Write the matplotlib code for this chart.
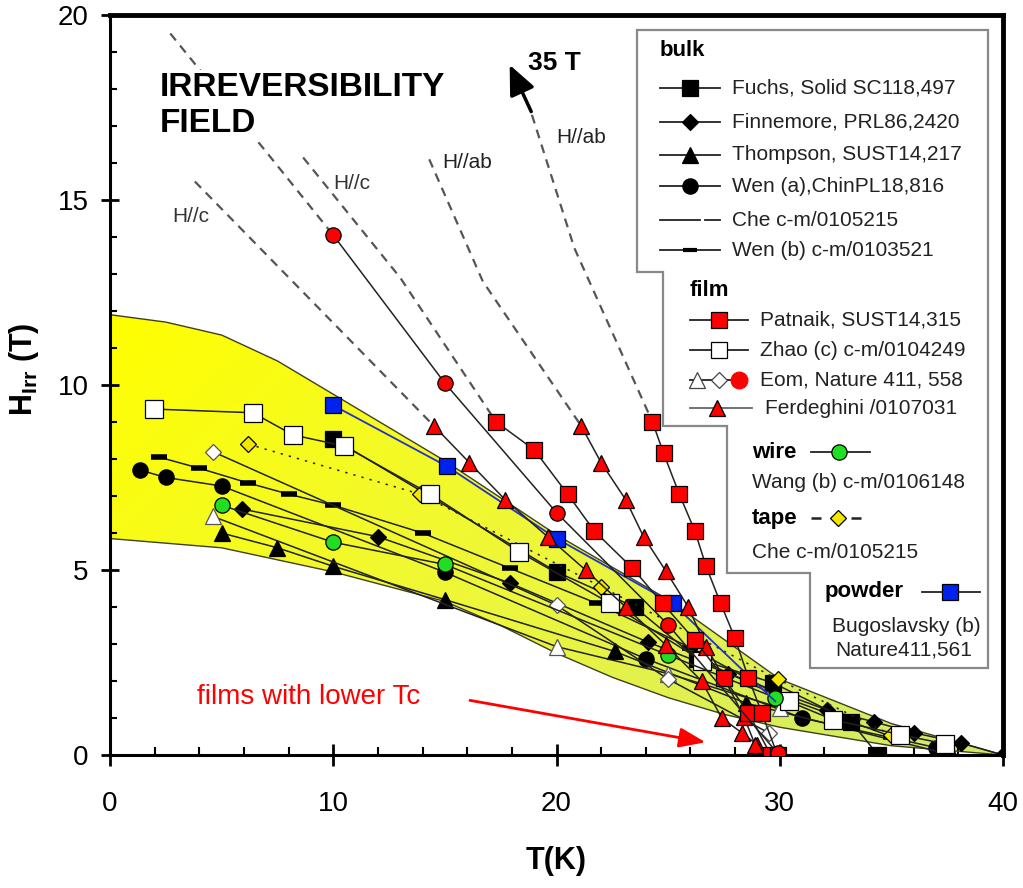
import numpy as np
import matplotlib
matplotlib.use("Agg")
import matplotlib.pyplot as plt
from matplotlib.lines import Line2D
from matplotlib.patches import Polygon
from matplotlib.colors import LinearSegmentedColormap

plt.rcParams['font.family'] = ['Liberation Sans', 'DejaVu Sans']
plt.rcParams['mathtext.fontset'] = 'custom'
plt.rcParams['mathtext.rm'] = 'Liberation Sans'
plt.rcParams['mathtext.bf'] = 'Liberation Sans:bold'

W, H = 1023, 888

# ---- yellow band (envelope) ----
band_up_T = [0, 2.5, 5, 7.5, 10, 15, 20, 25, 30, 35, 40]
band_up_H = [11.9, 11.7, 11.35, 10.65, 9.75, 7.95, 5.95, 4.2, 2.05, 0.85, 0.0]
band_lo_T = [0, 5, 10, 15, 17.5, 20, 22.5, 25, 27.5, 30, 35, 40]
band_lo_H = [5.85, 5.6, 4.95, 4.15, 3.5, 2.75, 2.1, 1.55, 1.1, 0.75, 0.25, 0.0]

# ---- bulk ----
fuchs_T = [10, 20, 23.5, 26.3, 29.7, 33.2, 34.4]
fuchs_H = [8.55, 4.95, 4.0, 2.6, 1.95, 0.9, 0.0]
finn_T = [5.9, 12, 17.9, 24.1, 27.7, 32.1, 34.2, 36, 38.1, 40]
finn_H = [6.65, 5.9, 4.65, 3.05, 2.2, 1.22, 0.9, 0.6, 0.33, 0.0]
thomp_T = [5, 7.5, 10, 15, 22.6, 28.5, 37.7]
thomp_H = [6.0, 5.6, 5.1, 4.2, 2.8, 1.4, 0.0]
wena_T = [1.35, 2.5, 5, 15, 24, 31, 37]
wena_H = [7.7, 7.5, 7.27, 4.94, 2.6, 1.0, 0.2]
wenb_T = [2.2, 4, 6.2, 8, 10, 14, 17.9, 21.8, 26, 30, 35]
wenb_H = [8.05, 7.75, 7.35, 7.05, 6.75, 6.0, 5.05, 4.1, 2.9, 1.6, 0.5]

# ---- film ----
patA_T = [17.3, 19.0, 20.5, 21.7, 23.4, 24.75, 26.2, 27.5, 28.6, 29.6]
patA_H = [9.0, 8.25, 7.05, 6.05, 5.05, 4.1, 3.1, 2.08, 1.13, 0.0]
patB_T = [24.3, 24.8, 25.5, 26.2, 26.7, 27.35, 28.0, 28.6, 29.2, 29.9]
patB_H = [9.0, 8.15, 7.05, 6.05, 5.1, 4.1, 3.15, 2.08, 1.13, 0.0]
zhao_T = [1.95, 6.4, 8.2, 10.5, 14.35, 18.3, 22.4, 26.5, 30.4, 32.4, 35.4, 37.4]
zhao_H = [9.35, 9.25, 8.65, 8.35, 7.05, 5.5, 4.1, 2.55, 1.45, 0.95, 0.55, 0.3]
eom_tri_T = [4.6, 20, 25, 30]
eom_tri_H = [6.45, 2.93, 2.2, 1.28]
eom_dia_T = [4.6, 20, 25, 29.5]
eom_dia_H = [8.2, 4.05, 2.05, 0.6]
eom_cir_T = [10, 15, 20, 25, 29.9]
eom_cir_H = [14.05, 10.05, 6.55, 3.52, 0.05]
ferA_T = [14.5, 16.1, 17.7, 19.6, 21.3, 23.1, 24.9, 26.5, 27.4, 28.3, 29.0]
ferA_H = [8.9, 7.9, 6.9, 5.9, 5.0, 4.0, 2.97, 2.0, 1.0, 0.6, 0.27]
ferB_T = [21.1, 22.0, 23.1, 23.9, 24.9, 25.9, 26.7, 27.5, 28.4, 28.9]
ferB_H = [8.9, 7.9, 6.9, 5.9, 4.97, 4.0, 2.93, 2.08, 1.03, 0.27]

# ---- wire / tape / powder ----
wang_T = [5, 10, 15, 25, 29.8]
wang_H = [6.75, 5.75, 5.15, 2.7, 1.55]
tape_T = [6.2, 13.9, 22, 29.9, 35]
tape_H = [8.4, 7.05, 4.55, 2.05, 0.55]
bugo_T = [10, 15.1, 20, 25.2, 29.8]
bugo_H = [9.45, 7.8, 5.85, 4.1, 1.45]

# ---- dashed extrapolations ----
guide1_T = [3.8, 14.5]
guide1_H = [15.5, 8.9]
guide2_T = [2.7, 7.2, 10]
guide2_H = [19.5, 16.15, 14.05]
guide3_T = [8.65, 13, 17.3]
guide3_H = [16.15, 12.9, 9.0]
guide4_T = [14.3, 16.7, 21.1]
guide4_H = [16.1, 12.8, 8.9]
guide5_T = [18.9, 20.8, 24.3]
guide5_H = [17.3, 13.7, 9.0]

fig = plt.figure(figsize=(W / 100, H / 100), dpi=100)
ax = fig.add_axes([110 / W, 1 - 755 / H, (1003 - 110) / W, (755 - 15) / H])

# band with gradient fill
verts = list(zip(band_up_T, band_up_H)) + list(zip(band_lo_T[::-1], band_lo_H[::-1]))
poly = Polygon(verts, closed=True, facecolor='none', edgecolor='none')
ax.add_patch(poly)
cmap = LinearSegmentedColormap.from_list('band', ['#ffff00', '#eef73a', '#cfe96c'])
xx, yy = np.meshgrid(np.linspace(0, 40, 300), np.linspace(0, 12, 150))
grad = 0.65 * xx / 40 + 0.35 * (1 - yy / 12)
im = ax.imshow(grad, extent=[0, 40, 0, 12], origin='lower', cmap=cmap,
               aspect='auto', zorder=1, interpolation='bilinear')
im.set_clip_path(poly)
ax.plot(band_up_T, band_up_H, color='#404020', lw=1.0, zorder=2)
ax.plot(band_lo_T, band_lo_H, color='#404020', lw=1.0, zorder=2)

# dashed guides
for gT, gH in [(guide1_T, guide1_H), (guide2_T, guide2_H), (guide3_T, guide3_H),
               (guide4_T, guide4_H), (guide5_T, guide5_H)]:
    ax.plot(gT, gH, color='#555555', lw=1.6, ls=(0, (4, 3)), zorder=2)

lc = '#222222'
def series(T, Hh, marker, mfc, ms=11, z=4, ls='-', mec='k', mew=0.9):
    ax.plot(T, Hh, color=lc, lw=1.1, ls=ls, marker=marker, ms=ms, mfc=mfc,
            mec=mec, mew=mew, zorder=z)

series(wenb_T, wenb_H, '_', 'k', ms=12, z=3, mew=4)
series(wena_T, wena_H, 'o', 'k', ms=11, z=3)
series(thomp_T, thomp_H, '^', 'k', ms=11, z=3)
series(finn_T, finn_H, 'D', 'k', ms=8, z=3)
series(fuchs_T, fuchs_H, 's', 'k', ms=12, z=3)
series(tape_T, tape_H, 'D', '#f5e600', ms=8, z=4, ls=(0, (1.5, 4)))
series(eom_tri_T, eom_tri_H, '^', 'white', ms=11, z=4, mec='#555')
series(eom_dia_T, eom_dia_H, 'D', 'white', ms=8, z=4, mec='#555')
series(zhao_T, zhao_H, 's', 'white', ms=13, z=4)
series(wang_T, wang_H, 'o', '#22dd22', ms=11, z=4)
ax.plot(bugo_T, bugo_H, color='#2233cc', lw=1.3, marker='s', ms=12, mfc='#0022ee',
        mec='k', mew=0.9, markevery=[0, 1, 2, 3], zorder=4)
series(ferA_T, ferA_H, '^', 'red', ms=12, z=5)
series(ferB_T, ferB_H, '^', 'red', ms=12, z=5)
series(patA_T, patA_H, 's', 'red', ms=12, z=5)
series(patB_T, patB_H, 's', 'red', ms=12, z=5)
series(eom_cir_T, eom_cir_H, 'o', 'red', ms=11, z=5)

# axes styling
ax.set_xlim(0, 40)
ax.set_ylim(0, 20)
ax.set_xticks([0, 10, 20, 30, 40])
ax.set_xticks(np.arange(0, 41, 2), minor=True)
ax.set_yticks([0, 5, 10, 15, 20])
ax.set_yticks(np.arange(0, 21, 1), minor=True)
ax.tick_params(axis='x', which='major', direction='inout', length=16, width=2,
               labelsize=20, pad=18)
ax.tick_params(axis='x', which='minor', direction='in', length=6, width=1.5)
ax.tick_params(axis='y', which='major', direction='inout', length=13, width=2,
               labelsize=20, pad=9)
ax.tick_params(axis='y', which='minor', direction='in', length=5, width=1.5)
for s in ['left', 'bottom']:
    ax.spines[s].set_linewidth(2.2)
for s in ['top', 'right']:
    ax.spines[s].set_linewidth(3.5)
ax.set_xlabel('T(K)', fontsize=22, fontweight='bold', labelpad=0)
ax.xaxis.set_label_coords(0.5, -(861 - 755) / 740, transform=ax.transAxes)
ax.xaxis.label.set_va('center')
fig.text(24 / W, 1 - 369 / H, r'H$_{\mathbf{Irr}}$ (T)', rotation=90, fontsize=22,
         fontweight='bold', ha='center', va='center')

# annotations
ax.text(2.24, 18.45, 'IRREVERSIBILITY\nFIELD', fontsize=24, fontweight='bold',
        ha='left', va='top', linespacing=1.2, zorder=6,
        bbox=dict(facecolor='white', edgecolor='none', pad=2))
ax.text(3.6, 14.55, 'H//c', fontsize=15, color='#333', ha='center', va='center')
ax.text(10.85, 15.45, 'H//c', fontsize=15, color='#333', ha='center', va='center')
ax.text(16.0, 16.0, 'H//ab', fontsize=15, color='#222', ha='center', va='center')
ax.text(21.1, 16.7, 'H//ab', fontsize=15, color='#222', ha='center', va='center')
ax.text(19.9, 18.7, '35 T', fontsize=19, fontweight='bold', ha='center', va='center')
ax.annotate('', xy=(17.85, 18.72), xytext=(18.92, 17.32),
            arrowprops=dict(arrowstyle='-|>,head_length=0.9,head_width=0.4',
                            color='k', lw=2.5, mutation_scale=20))
ax.text(3.9, 1.57, 'films with lower Tc', fontsize=20, color='red',
        ha='left', va='center')
ax.annotate('', xy=(26.8, 0.33), xytext=(16.0, 1.49),
            arrowprops=dict(arrowstyle='-|>,head_length=0.8,head_width=0.3',
                            color='red', lw=2, mutation_scale=20), zorder=6)

# ---- custom legend (pixel layout) ----
def P(x, y):
    return x / W, 1 - y / H

box = [(637, 30), (988, 30), (988, 668), (810, 668), (810, 573), (727, 573),
       (727, 426), (663, 426), (663, 272), (637, 272)]
fig.add_artist(Polygon([P(x, y) for x, y in box], closed=True, facecolor='white',
                       edgecolor='#888888', lw=1.6, transform=fig.transFigure,
                       zorder=10))

def leg_line(x0, x1, y, color='#222', ls='-', lw=1.3):
    a, b = P(x0, y)
    c, _ = P(x1, y)
    fig.add_artist(Line2D([a, c], [b, b], color=color, ls=ls, lw=lw,
                          transform=fig.transFigure, zorder=11))

def leg_mark(x, y, marker, mfc, ms=11, mec='k', mew=0.9):
    a, b = P(x, y)
    fig.add_artist(Line2D([a], [b], marker=marker, ms=ms, mfc=mfc, mec=mec,
                          mew=mew, ls='none', transform=fig.transFigure, zorder=12))

def leg_text(x, y, s, bold=False, size=15, ha='left'):
    a, b = P(x, y)
    fig.text(a, b, s, fontsize=16 if bold else size, ha=ha, va='center',
             fontweight='bold' if bold else 'normal',
             color='k' if bold else '#222', zorder=13)

leg_text(660, 50, 'bulk', bold=True)
bulk_items = [(88, 's', 'k', 12, 'Fuchs, Solid SC118,497'),
              (122, 'D', 'k', 8, 'Finnemore, PRL86,2420'),
              (155, '^', 'k', 11, 'Thompson, SUST14,217'),
              (186, 'o', 'k', 11, 'Wen (a),ChinPL18,816')]
for y, m, fc, ms, lab in bulk_items:
    leg_line(660, 720, y)
    leg_mark(690, y, m, fc, ms)
    leg_text(732, y, lab)
leg_line(660, 700, 220)
leg_line(705, 720, 220)
leg_text(732, 220, 'Che c-m/0105215')
leg_line(660, 720, 250)
leg_mark(690, 250, '_', 'k', 10, mew=3)
leg_text(732, 250, 'Wen (b) c-m/0103521')

leg_text(690, 290, 'film', bold=True)
leg_line(690, 748, 320)
leg_mark(719, 320, 's', 'red', 12)
leg_text(760, 320, 'Patnaik, SUST14,315')
leg_line(690, 748, 350)
leg_mark(719, 350, 's', 'white', 12)
leg_text(760, 350, 'Zhao (c) c-m/0104249')
leg_line(690, 745, 380)
leg_mark(697, 380, '^', 'white', 11, mec='#444')
leg_mark(719, 380, 'D', 'white', 8, mec='#444')
leg_mark(739, 380, 'o', 'red', 12, mec='red')
leg_text(760, 380, 'Eom, Nature 411, 558')
leg_line(690, 752, 408, color='#666')
leg_mark(717, 408, '^', 'red', 12)
leg_text(765, 408, 'Ferdeghini /0107031')

leg_text(752, 452, 'wire', bold=True)
leg_line(811, 870, 452)
leg_mark(839, 452, 'o', '#22dd22', 11)
leg_text(752, 482, 'Wang (b) c-m/0106148')
leg_text(752, 518, 'tape', bold=True)
leg_line(811, 868, 518, ls=(0, (4, 4)), lw=1.8)
leg_mark(838, 518, 'D', '#f5e600', 8)
leg_text(752, 552, 'Che c-m/0105215')
leg_text(825, 592, 'powder', bold=True)
leg_line(922, 980, 592)
leg_mark(950, 592, 's', '#0022ee', 12)
leg_text(906, 627, 'Bugoslavsky (b)', ha='center')
leg_text(904, 650, 'Nature411,561', ha='center')

fig.savefig('out.png', dpi=100)
